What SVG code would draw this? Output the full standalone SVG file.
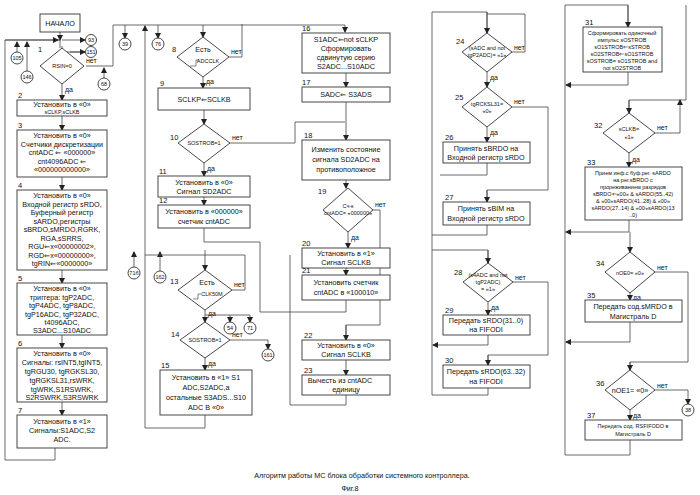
<svg xmlns="http://www.w3.org/2000/svg" width="700" height="495" viewBox="0 0 700 495">
<style>
text{font-family:"Liberation Sans",Arial,sans-serif;fill:#111;text-anchor:middle}
.t{font-size:7.2px}.s{font-size:5.5px}.n{font-size:7.5px;text-anchor:start}.l{font-size:7px;text-anchor:start}
rect,polygon,circle{fill:#fff;stroke:#333;stroke-width:0.9}
.c path{fill:none;stroke:#444;stroke-width:0.8;marker-end:url(#a)}
.c path.p{marker-end:none}
</style>
<defs><marker id="a" markerWidth="6" markerHeight="6" refX="5" refY="3" orient="auto" markerUnits="userSpaceOnUse"><path d="M0,0L6,3L0,6z" fill="#222"/></marker></defs>
<rect x="0" y="0" width="700" height="495" style="fill:#fff;stroke:none"/>
<g class="c" id="connectors">
<path d="M60,32V40"/>
<path d="M5,40H60V48" class="p"/><path d="M5,460V40H58"/>
<path d="M55,448V460H5" class="p"/>
<path d="M17,52V42"/><path d="M27,71V42"/>
<path d="M62,40H85"/><path d="M62,46V52H85" class="p"/><path d="M70,52H85"/>
<path d="M62,84V100"/><path d="M62,116V130"/><path d="M62,177V190"/><path d="M62,270V283"/><path d="M62,335V348"/><path d="M62,402V415"/>
<path d="M86,66H113V25" class="p"/><path d="M104,78V68"/>
<path d="M145,428V26"/>
<path d="M113,25H345V32"/>
<path d="M125,25V38"/><path d="M158,25V38"/>
<path d="M203,25V37"/><path d="M229,57H242V24" class="p"/>
<path d="M203,77V88"/><path d="M204,110V124"/><path d="M204,163V176"/><path d="M204,197V205"/>
<path d="M204,228V242" class="p"/>
<path d="M230,143H295V122H345" class="p"/>
<path d="M205,250V270"/><path d="M134,267V252"/><path d="M160,271V252"/>
<path d="M145,255H205" class="p"/>
<path d="M232,290H245V255H205" class="p"/>
<path d="M205,310V322"/><path d="M205,315H250V322"/><path d="M230,315V322"/>
<path d="M230,340H268V349"/>
<path d="M205,358V370"/><path d="M205,415V428H145" class="p"/>
<path d="M346,73V87"/><path d="M346,102V122V140"/>
<path d="M346,180V188"/><path d="M348,232V248"/><path d="M346,268V275"/>
<path d="M346,300V312H260V242H204" class="p"/>
<path d="M373,210H380V325H346V340" class="p"/><path d="M346,325V340"/>
<path d="M346,360V375"/><path d="M346,395V405H290V255" class="p"/>
<path d="M432,395V12H487V33" class="p"/><path d="M487,12V33"/>
<path d="M512,52H525V14H487" class="p"/>
<path d="M487,72V87"/><path d="M487,127V142"/>
<path d="M512,107H548V190H487V202" class="p"/><path d="M487,190V202"/>
<path d="M487,163V175H440" class="p"/>
<path d="M487,225V235H432" class="p"/>
<path d="M432,250H488V263" class="p"/><path d="M488,250V263"/>
<path d="M488,302V315"/><path d="M513,282H548V355H488V365" class="p"/><path d="M488,355V365"/>
<path d="M488,335V345H433"/>
<path d="M488,388V395H432" class="p"/>
<path d="M565,455V5H628V27" class="p"/><path d="M628,5V27"/>
<path d="M628,72V85H566"/>
<path d="M686,5V100H629V113" class="p"/><path d="M629,100V113"/>
<path d="M655,133H680V100"/>
<path d="M629,153V167"/><path d="M629,220V232H566"/>
<path d="M630,232V252"/>
<path d="M630,293V300"/><path d="M630,322V342H566"/>
<path d="M655,272H688V362H630V370" class="p"/><path d="M630,362V370"/>
<path d="M655,390H688V404"/><path d="M630,410V420"/>
<path d="M630,440V455H565" class="p"/>
</g>
<g id="start"><rect x="40" y="14" width="40" height="18"/><text class="t" x="60" y="26">НАЧАЛО</text></g>
<g id="con"><circle cx="91" cy="40" r="5.5"/><text class="s" x="91" y="42">93</text>
<circle cx="91" cy="52" r="5.5"/><text class="s" x="91" y="54">151</text>
<circle cx="17" cy="58" r="6"/><text class="s" x="17" y="60">105</text>
<circle cx="27" cy="77" r="6"/><text class="s" x="27" y="79">146</text>
<circle cx="104" cy="84" r="6"/><text class="s" x="104" y="86">68</text>
<circle cx="125" cy="44" r="6"/><text class="s" x="125" y="46">39</text>
<circle cx="158" cy="44" r="6"/><text class="s" x="158" y="46">76</text>
<circle cx="134" cy="273" r="6"/><text class="s" x="134" y="275">71б</text>
<circle cx="160" cy="277" r="6"/><text class="s" x="160" y="279">162</text>
<circle cx="230" cy="328" r="6"/><text class="s" x="230" y="330">54</text>
<circle cx="250" cy="328" r="6"/><text class="s" x="250" y="330">71</text>
<circle cx="268" cy="355" r="6"/><text class="s" x="268" y="357">161</text>
<circle cx="688" cy="410" r="6"/><text class="s" x="688" y="412">38</text></g>
<g id="n1"><polygon points="62,48 84,66 62,84 40,66"/><text class="s" x="62" y="68">RSIN=0</text><text class="n" x="38" y="52">1</text><text class="l" x="86" y="63">нет</text><text class="l" x="65" y="92">да</text></g>
<g id="n2"><rect x="17" y="100" width="90" height="16"/><text class="n" x="18" y="98">2</text><text class="t" x="62" y="107">Установить в «0»</text><text class="s" x="62" y="114">sCLKP,sCLKB</text></g>
<g id="n3"><rect x="17" y="130" width="90" height="47"/><text class="n" x="18" y="128">3</text><text class="t"><tspan x="62" y="138">Установить в «0»</tspan><tspan x="62" y="146.5">Счетчики дискретизации</tspan><tspan x="62" y="155">cntADC ⇐ «000000»</tspan><tspan x="62" y="163.5">cnt4096ADC ⇐</tspan><tspan x="62" y="172">«000000000000»</tspan></text></g>
<g id="n4"><rect x="17" y="190" width="90" height="80"/><text class="n" x="18" y="188">4</text><text class="t"><tspan x="62" y="198">Установить в «0»</tspan><tspan x="62" y="206.5">Входной регистр sRDO,</tspan><tspan x="62" y="215">Буферный регистр</tspan><tspan x="62" y="223.5">sARDO,регистры</tspan><tspan x="62" y="232">sBRDO,sMRDO,RGRK,</tspan><tspan x="62" y="240.5">RGA,sSRRS,</tspan><tspan x="62" y="249">RGU⇐x«00000002»,</tspan><tspan x="62" y="257.5">RGD⇐x«00000000»,</tspan><tspan x="62" y="266">tgRIN⇐«0000000»</tspan></text></g>
<g id="n5"><rect x="17" y="283" width="90" height="52"/><text class="n" x="18" y="281">5</text><text class="t"><tspan x="62" y="291">Установить в «0»</tspan><tspan x="62" y="299.5">триггера: tgP2ADC,</tspan><tspan x="62" y="308">tgP4ADC, tgP8ADC,</tspan><tspan x="62" y="316.5">tgP16ADC, tgP32ADC,</tspan><tspan x="62" y="325">t4096ADC,</tspan><tspan x="62" y="333">S3ADC...S10ADC</tspan></text></g>
<g id="n6"><rect x="17" y="348" width="90" height="54"/><text class="n" x="18" y="346">6</text><text class="t"><tspan x="62" y="356">Установить в «0»</tspan><tspan x="62" y="365">Сигналы: rsINT5,tgINT5,</tspan><tspan x="62" y="374">tgRGU30, tgRGKSL30,</tspan><tspan x="62" y="383">tgRGKSL31,rsWRK,</tspan><tspan x="62" y="392">tgWRK,S1RSWRK,</tspan><tspan x="62" y="400">S2RSWRK,S3RSWRK</tspan></text></g>
<g id="n7"><rect x="17" y="415" width="90" height="33"/><text class="n" x="18" y="413">7</text><text class="t"><tspan x="62" y="424">Установить в «1»</tspan><tspan x="62" y="433">Сигналы:S1ADC,S2</tspan><tspan x="62" y="442">ADC.</tspan></text></g>
<g id="n8"><polygon points="203,37 229,57 203,77 177,57"/><text class="n" x="172" y="52">8</text><text class="t" x="203" y="52">Есть</text><text class="s" x="208" y="63">ADCCLK</text><path d="M190,66h6v-6h3" fill="none" stroke="#333" stroke-width="0.6"/><text class="l" x="231" y="54">нет</text><text class="l" x="206" y="84">да</text></g>
<g id="n9"><rect x="158" y="88" width="92" height="22"/><text class="n" x="160" y="86">9</text><text class="t" x="204" y="102">SCLKP⇐SCLKB</text></g>
<g id="n10"><polygon points="204,124 230,143 204,163 178,143"/><text class="n" x="170" y="140">10</text><text class="s" x="204" y="145">SOSTROB=1</text><text class="l" x="232" y="140">нет</text><text class="l" x="207" y="171">да</text></g>
<g id="n11"><rect x="158" y="176" width="92" height="21"/><text class="n" x="159" y="174">11</text><text class="t"><tspan x="204" y="185">Установить в «0»</tspan><tspan x="204" y="194">Сигнал SD2ADC</tspan></text></g>
<g id="n12"><rect x="158" y="205" width="92" height="23"/><text class="n" x="159" y="203">12</text><text class="t"><tspan x="204" y="214">Установить в «000000»</tspan><tspan x="204" y="224">счетчик cntADC</tspan></text></g>
<g id="n13"><polygon points="205,270 232,290 205,310 178,290"/><text class="n" x="170" y="284">13</text><text class="t" x="207" y="285">Есть</text><text class="s" x="212" y="296">CLK50M</text><path d="M193,299h5v-5h3" fill="none" stroke="#333" stroke-width="0.6"/><text class="l" x="234" y="287">нет</text><text class="l" x="208" y="316">да</text></g>
<g id="n14"><polygon points="205,322 230,340 205,358 180,340"/><text class="n" x="171" y="337">14</text><text class="s" x="205" y="342">SOSTROB=1</text><text class="l" x="232" y="337">нет</text><text class="l" x="208" y="366">да</text></g>
<g id="n15"><rect x="160" y="370" width="92" height="45"/><text class="n" x="161" y="368">15</text><text class="t"><tspan x="206" y="380">Установить в «1» S1</tspan><tspan x="206" y="390">ADC,S2ADC,а</tspan><tspan x="206" y="400">остальные S3ADS...S10</tspan><tspan x="206" y="410">ADC В «0»</tspan></text></g>
<g id="n16"><rect x="302" y="33" width="88" height="40"/><text class="n" x="302" y="31">16</text><text class="t"><tspan x="346" y="42">S1ADC⇐not sCLKP</tspan><tspan x="346" y="51">Сформировать</tspan><tspan x="346" y="60">сдвинутую серию</tspan><tspan x="346" y="69">S2ADC...S10ADC</tspan></text></g>
<g id="n17"><rect x="302" y="87" width="88" height="15"/><text class="n" x="302" y="85">17</text><text class="t" x="346" y="97">SADC⇐ S3ADS</text></g>
<g id="n18"><rect x="302" y="140" width="88" height="40"/><text class="n" x="304" y="138">18</text><text class="t"><tspan x="346" y="152">Изменить состояние</tspan><tspan x="346" y="162">сигнала SD2ADC на</tspan><tspan x="346" y="172">противоположное</tspan></text></g>
<g id="n19"><polygon points="348,188 373,210 348,232 323,210"/><text class="n" x="318" y="194">19</text><text class="s"><tspan x="348" y="208">Сч-к</tspan><tspan x="348" y="215">cntADC= «000000»</tspan></text><text class="l" x="375" y="207">нет</text><text class="l" x="351" y="240">да</text></g>
<g id="n20"><rect x="302" y="248" width="88" height="20"/><text class="n" x="302" y="246">20</text><text class="t"><tspan x="346" y="256">Установить в «1»</tspan><tspan x="346" y="265">Сигнал SCLKB</tspan></text></g>
<g id="n21"><rect x="302" y="275" width="88" height="25"/><text class="n" x="302" y="273">21</text><text class="t"><tspan x="346" y="285">Установить счетчик</tspan><tspan x="346" y="295">cntADC в «100010»</tspan></text></g>
<g id="n22"><rect x="302" y="340" width="88" height="20"/><text class="n" x="304" y="338">22</text><text class="t"><tspan x="346" y="348">Установить в «0»</tspan><tspan x="346" y="357">Сигнал SCLKB</tspan></text></g>
<g id="n23"><rect x="302" y="375" width="88" height="20"/><text class="n" x="304" y="373">23</text><text class="t"><tspan x="340" y="383">Вычесть из cntADC</tspan><tspan x="346" y="392">единицу</tspan></text></g>
<g id="n24"><polygon points="487,33 512,52 487,72 462,52"/><text class="n" x="456" y="44">24</text><text class="s"><tspan x="487" y="50">(sADC and not</tspan><tspan x="487" y="57">tgP2ADC)= «1»</tspan></text><text class="l" x="514" y="50">нет</text><text class="l" x="490" y="80">да</text></g>
<g id="n25"><polygon points="487,87 512,107 487,127 462,107"/><text class="n" x="455" y="100">25</text><text class="s"><tspan x="487" y="106">tgRCKSL31=</tspan><tspan x="487" y="113">«0»</tspan></text><text class="l" x="514" y="104">нет</text><text class="l" x="490" y="135">да</text></g>
<g id="n26"><rect x="443" y="142" width="87" height="21"/><text class="n" x="445" y="140">26</text><text class="t"><tspan x="486" y="151">Принять sBRDO на</tspan><tspan x="486" y="160">Входной регистр sRDO</tspan></text></g>
<g id="n27"><rect x="443" y="202" width="87" height="23"/><text class="n" x="445" y="200">27</text><text class="t"><tspan x="486" y="211">Принять sBIM на</tspan><tspan x="486" y="221">Входной регистр sRDO</tspan></text></g>
<g id="n28"><polygon points="488,263 513,282 488,302 463,282"/><text class="n" x="454" y="275">28</text><text class="s"><tspan x="488" y="277">(s4ADC and not</tspan><tspan x="488" y="284">tgP2ADC)</tspan><tspan x="488" y="291">= «1»</tspan></text><text class="l" x="515" y="280">нет</text><text class="l" x="491" y="310">да</text></g>
<g id="n29"><rect x="443" y="315" width="87" height="20"/><text class="n" x="445" y="313">29</text><text class="t"><tspan x="486" y="323">Передать sRDO(31..0)</tspan><tspan x="486" y="332">на FIFODI</tspan></text></g>
<g id="n30"><rect x="443" y="365" width="87" height="23"/><text class="n" x="445" y="363">30</text><text class="t"><tspan x="486" y="374">Передать sRDO(63..32)</tspan><tspan x="486" y="384">на FIFODI</tspan></text></g>
<g id="n31"><rect x="583" y="27" width="79" height="45"/><text class="n" x="585" y="25">31</text><text class="s"><tspan x="622" y="35">Сформировать одиночный</tspan><tspan x="622" y="42">импульс sOSTROB</tspan><tspan x="622" y="49">sO1STROB⇐sSTROB</tspan><tspan x="622" y="56">sO2STROB⇐sO1STROB</tspan><tspan x="622" y="63">sOSTROB= sO1STROB and</tspan><tspan x="622" y="70">not sO2STROB</tspan></text></g>
<g id="n32"><polygon points="629,113 655,133 629,153 603,133"/><text class="n" x="594" y="128">32</text><text class="s"><tspan x="629" y="131">sCLKB=</tspan><tspan x="629" y="139">«1»</tspan></text><text class="l" x="657" y="130">нет</text><text class="l" x="632" y="162">да</text></g>
<g id="n33"><rect x="585" y="167" width="97" height="53"/><text class="n" x="587" y="165">33</text><text class="s"><tspan x="633" y="175">Прием инф.с буф.рег. sARDO</tspan><tspan x="633" y="182">на рег.sBRDO с</tspan><tspan x="633" y="189">прореживанием разрядов</tspan><tspan x="633" y="196">sBRDO⇐«00» &amp; sARDO(55..42)</tspan><tspan x="633" y="203">&amp; «00»sARDO(41..28) &amp; «00»</tspan><tspan x="633" y="210">sARDO(27..14) &amp; «00»sARDO(13</tspan><tspan x="633" y="217">..0)</tspan></text></g>
<g id="n34"><polygon points="630,252 655,272 630,293 605,272"/><text class="n" x="596" y="266">34</text><text class="s" x="630" y="275">nOE0= «0»</text><text class="l" x="657" y="270">нет</text><text class="l" x="633" y="300">да</text></g>
<g id="n35"><rect x="585" y="300" width="97" height="22"/><text class="n" x="587" y="298">35</text><text class="t"><tspan x="633" y="309">Передать сод.sMRDO в</tspan><tspan x="633" y="319">Магистраль D</tspan></text></g>
<g id="n36"><polygon points="630,370 655,390 630,410 605,390"/><text class="n" x="596" y="386">36</text><text class="t" x="630" y="393">nOE1= «0»</text><text class="l" x="657" y="388">нет</text><text class="l" x="633" y="418">да</text></g>
<g id="n37"><rect x="585" y="420" width="97" height="20"/><text class="n" x="587" y="418">37</text><text class="s"><tspan x="633" y="428">Передать сод. RSFIFODO в</tspan><tspan x="633" y="436">Магистраль D</tspan></text></g>
<g id="caption"><text class="t" x="362" y="478">Алгоритм работы МС блока обработки системного контроллера.</text><text class="t" x="350" y="491">Фиг.8</text></g>
</svg>
